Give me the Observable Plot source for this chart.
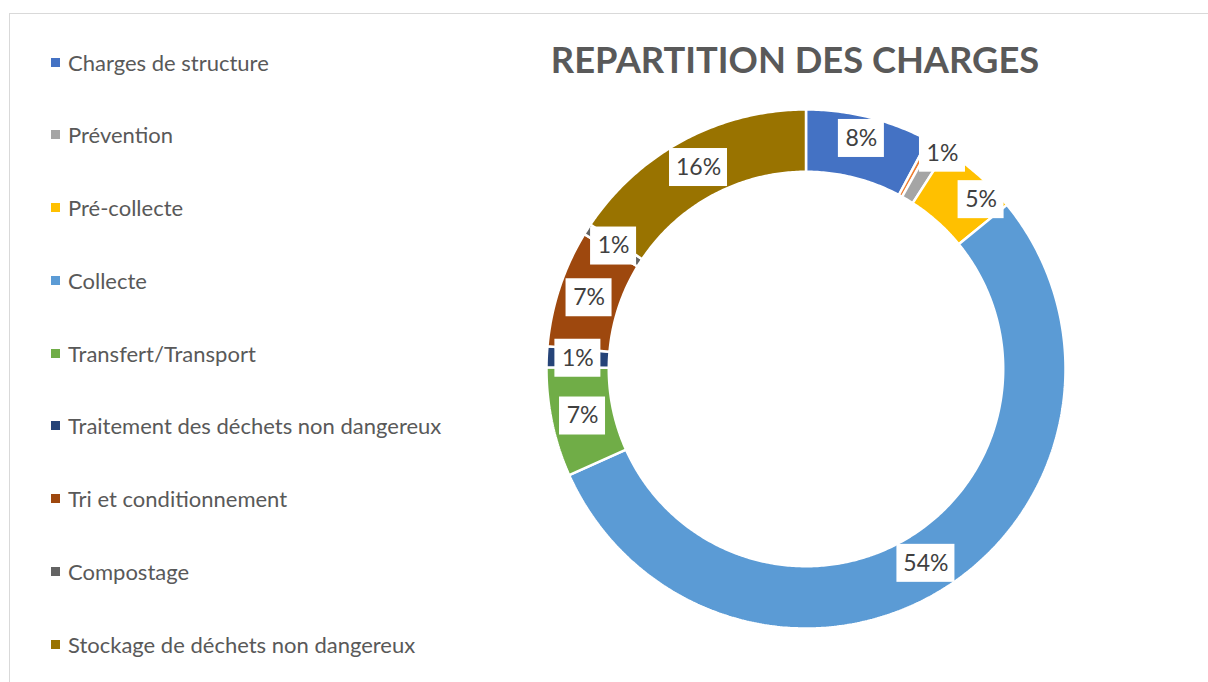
<!DOCTYPE html>
<html><head><meta charset="utf-8">
<script src="https://cdn.jsdelivr.net/npm/d3@7"></script>
<script src="https://cdn.jsdelivr.net/npm/@observablehq/plot@0.6"></script>
<style>
html,body{margin:0;padding:0;background:#fff;}
#wrap{position:relative;width:1208px;height:682px;overflow:hidden;font-family:Lato,"Open Sans",sans-serif;}
#frame{position:absolute;left:9px;top:13px;width:1300px;height:800px;border-top:1.5px solid #d9d9d9;border-left:1.5px solid #d9d9d9;}
#chart{position:absolute;left:0;top:0;}
#title{position:absolute;left:495px;width:600px;top:39px;text-align:center;font-weight:700;font-size:36.3px;line-height:40px;color:#595959;}
#legend{position:absolute;left:51px;top:0;}
.item{position:absolute;left:0;height:26px;white-space:nowrap;display:flex;align-items:center;font-size:22px;color:#595959;}
.sw{width:9px;height:9px;margin-right:8px;flex:none;}
</style></head><body>
<div id="wrap"><div id="frame"></div><div id="chart"></div><div id="title">REPARTITION DES CHARGES</div><div id="legend"></div></div>
<script>
// ---- data ----
const categories = ["Charges de structure", "", "Prévention", "Pré-collecte", "Collecte", "Transfert/Transport", "Traitement des déchets non dangereux", "Tri et conditionnement", "Compostage", "Stockage de déchets non dangereux"];
const values = [7.8, 0.3, 1.0, 5.0, 54.2, 6.8, 1.3, 7.3, 0.7, 15.6];
const colors = ["#4472C4", "#ED7D31", "#A5A5A5", "#FFC000", "#5B9BD5", "#70AD47", "#264478", "#9E480E", "#636363", "#997300"];

// ---- layout (not data) ----
const cx = 805.5, cy = 368.5, R = 259.5, inner = 0.76;
const labelNudge = {"Charges de structure": [0, -9], "Prévention": [19, -20], "Pré-collecte": [23, 1]};

const total = d3.sum(values);
const pts = [];
const labels = [];
let cum = 0;
categories.forEach((cat, i) => {
  const a0 = cum / total * 2 * Math.PI;
  cum += values[i];
  const a1 = cum / total * 2 * Math.PI;
  const n = Math.max(2, Math.ceil((a1 - a0) / 0.01));
  const ring = [];
  for (let k = 0; k <= n; k++) { const a = a0 + (a1 - a0) * k / n; ring.push([Math.sin(a), Math.cos(a)]); }
  for (let k = n; k >= 0; k--) { const a = a0 + (a1 - a0) * k / n; ring.push([inner * Math.sin(a), inner * Math.cos(a)]); }
  ring.push(ring[0]);
  ring.forEach(([x, y]) => pts.push({cat, x, y}));
  const pct = values[i] / total * 100;
  if (pct >= 0.5) {
    const am = (a0 + a1) / 2, rm = (1 + inner) / 2;
    const nd = labelNudge[cat] || [0, 0];
    const text = Math.round(pct) + "%";
    const hw = (text.length === 2 ? 23 : 29) / R, hh = 19 / R;
    const x = rm * Math.sin(am) + nd[0] / R, y = rm * Math.cos(am) - nd[1] / R;
    labels.push({cat, text, x, y, x1: x - hw, x2: x + hw, y1: y - hh, y2: y + hh});
  }
});

const plot = Plot.plot({
  width: 1208, height: 682, margin: 0,
  style: {background: "transparent"},
  x: {domain: [-1, 1], range: [cx - R, cx + R], axis: null},
  y: {domain: [-1, 1], range: [cy + R, cy - R], axis: null},
  color: {domain: categories, range: colors, legend: false},
  marks: [
    Plot.line(pts, {x: "x", y: "y", z: "cat", fill: "cat", stroke: "white", strokeWidth: 2.5, strokeLinejoin: "miter"}),
    Plot.rect(labels, {x1: "x1", x2: "x2", y1: "y1", y2: "y2", fill: "white"}),
    Plot.text(labels, {x: "x", y: "y", text: "text", fontSize: 23, fill: "#404040", fontFamily: "Lato, 'Open Sans', sans-serif"})
  ]
});
document.getElementById("chart").appendChild(plot);

const legend = document.getElementById("legend");
categories.forEach((cat, i) => {
  if (!cat) return;
  const j = legend.children.length;
  const it = document.createElement("div");
  it.className = "item";
  it.style.top = (62 + j * 72.75 - 13) + "px";
  const sw = document.createElement("span"); sw.className = "sw"; sw.style.background = colors[i];
  const tx = document.createElement("span"); tx.textContent = cat;
  it.appendChild(sw); it.appendChild(tx);
  legend.appendChild(it);
});
</script>
</body></html>
